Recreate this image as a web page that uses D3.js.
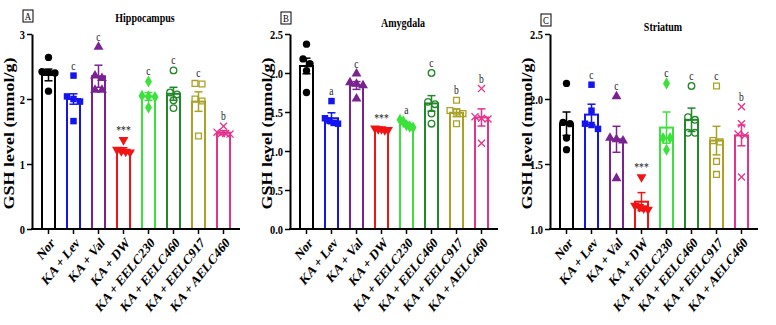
<!DOCTYPE html>
<html>
<head>
<meta charset="utf-8">
<script src="https://cdn.jsdelivr.net/npm/d3@7"></script>
<style>
  body { margin: 0; background: #fff; }
  text { font-family: "Liberation Serif", "Times New Roman", serif; }
</style>
</head>
<body>
<div id="chart"></div>
<script>
// groups (same for the three panels)
var categories = ["Nor", "KA + Lev", "KA + Val", "KA + DW", "KA + EELC230", "KA + EELC460", "KA + EELC917", "KA + AELC460"];

// A - Hippocampus
var meansA = [2.37, 2.0, 2.35, 1.21, 2.04, 2.08, 1.96, 1.48];
var semA = [0.09, 0.08, 0.17, 0.04, 0.06, 0.1, 0.15, 0.03];
var pointsA = [
  [2.64, 2.42, 2.41, 2.40, 2.12],
  [2.36, 2.04, 2.0, 1.96, 1.66],
  [2.8, 2.36, 2.32, 2.14, 2.14],
  [1.37, 1.22, 1.2, 1.19, 1.18],
  [2.27, 2.05, 2.04, 2.03, 1.87],
  [2.44, 2.1, 2.07, 1.98, 1.86],
  [2.24, 2.23, 2.0, 1.97, 1.43],
  [1.58, 1.49, 1.47, 1.47, 1.46]
];
var notesA = ["", "c", "c", "***", "c", "c", "c", "b"];

// B - Amygdala
var meansB = [2.09, 1.42, 1.84, 1.28, 1.34, 1.61, 1.49, 1.43];
var semB = [0.1, 0.07, 0.05, 0.015, 0.03, 0.1, 0.05, 0.11];
var pointsB = [
  [2.37, 2.18, 2.12, 2.03, 1.75],
  [1.64, 1.42, 1.39, 1.36, 1.35],
  [1.99, 1.88, 1.86, 1.84, 1.67],
  [1.29, 1.28, 1.28, 1.27, 1.27],
  [1.40, 1.38, 1.33, 1.31, 1.30],
  [2.0, 1.63, 1.6, 1.48, 1.35],
  [1.65, 1.52, 1.5, 1.48, 1.35],
  [1.8, 1.44, 1.42, 1.41, 1.1]
];
var notesB = ["", "a", "c", "***", "a", "c", "b", "b"];

// C - Striatum
var meansC = [1.81, 1.88, 1.69, 1.21, 1.78, 1.84, 1.68, 1.72];
var semC = [0.09, 0.08, 0.1, 0.07, 0.12, 0.09, 0.11, 0.08];
var pointsC = [
  [2.12, 1.82, 1.81, 1.70, 1.61],
  [2.11, 1.91, 1.81, 1.8, 1.77],
  [2.02, 1.7, 1.69, 1.68, 1.39],
  [1.40, 1.18, 1.17, 1.16, 1.15],
  [2.12, 1.7, 1.7, 1.61],
  [2.1, 1.86, 1.84, 1.74, 1.74],
  [2.1, 1.68, 1.67, 1.52, 1.42],
  [1.94, 1.81, 1.73, 1.72, 1.40]
];
var notesC = ["", "c", "c", "***", "c", "c", "c", "b"];

var colors = ["#000000", "#1414f0", "#7a2390", "#f01414", "#3be23b", "#22882a", "#aaa226", "#e4338c"];
var symbolTypes = [d3.symbolCircle, d3.symbolSquare, d3.symbolTriangle, d3.symbolTriangle,
  d3.symbolDiamond, d3.symbolCircle, d3.symbolSquare, d3.symbolTimes];
var filled = [true, true, true, true, true, false, false, false];

var SX = 0.8; // glyphs in the figure are narrow
var TOP = 34, BOTTOM = 229;

var svg = d3.select("#chart").append("svg")
  .attr("width", 776)
  .attr("height", 325)
  .style("background", "#fff");

var panels = [
  { key: "A", title: "Hippocampus", left: 32, domain: [0, 3], ticks: [0, 1, 2, 3], fmt: d3.format("d"),
    means: meansA, sems: semA, points: pointsA, notes: notesA, titleY: 22, boxY: 10 },
  { key: "B", title: "Amygdala", left: 290, domain: [0, 2.5], ticks: [0, 0.5, 1, 1.5, 2, 2.5], fmt: d3.format(".1f"),
    means: meansB, sems: semB, points: pointsB, notes: notesB, titleY: 27, boxY: 12 },
  { key: "C", title: "Striatum", left: 550, domain: [1, 2.5], ticks: [1, 1.5, 2, 2.5], fmt: d3.format(".1f"),
    means: meansC, sems: semC, points: pointsC, notes: notesC, titleY: 31, boxY: 14 }
];

function squeeze(x, y, rot) {
  return "translate(" + x + "," + y + ") scale(" + SX + ",1)" + (rot ? " rotate(" + rot + ")" : "");
}

// spread points with nearly equal values side by side, inside the bar
function spreadPoints(vals, y) {
  var pts = vals.map(function (v) { return { v: v, py: y(v), dx: 0 }; })
    .sort(function (a, b) { return a.py - b.py; });
  var clusters = [];
  pts.forEach(function (p) {
    var last = clusters[clusters.length - 1];
    if (last && p.py - last[last.length - 1].py < 5) last.push(p);
    else clusters.push([p]);
  });
  clusters.forEach(function (c) {
    var step = c.length > 1 ? Math.min(7, 13 / (c.length - 1)) : 0;
    c.forEach(function (p, i) { p.dx = (i - (c.length - 1) / 2) * step; });
  });
  return pts;
}

function drawPanel(p) {
  var g = svg.append("g").attr("class", "panel-" + p.key);

  var x = d3.scaleBand().domain(categories)
    .range([p.left + 4, p.left + 204])
    .paddingInner(0.4).paddingOuter(0.2);
  var y = d3.scaleLinear().domain(p.domain).range([BOTTOM, TOP]);

  // bars
  g.selectAll(".bar").data(p.means).enter().append("rect")
    .attr("class", "bar")
    .attr("x", function (d, i) { return x(categories[i]) + 1; })
    .attr("y", function (d) { return y(d); })
    .attr("width", x.bandwidth() - 2)
    .attr("height", function (d) { return BOTTOM - y(d); })
    .attr("fill", "#fff")
    .attr("stroke", function (d, i) { return colors[i]; })
    .attr("stroke-width", 2);

  // error bars
  var eb = g.selectAll(".err").data(p.means).enter().append("g")
    .attr("class", "err")
    .attr("stroke", function (d, i) { return colors[i]; })
    .attr("stroke-width", 1.5);
  eb.append("line")
    .attr("x1", function (d, i) { return x(categories[i]) + x.bandwidth() / 2; })
    .attr("x2", function (d, i) { return x(categories[i]) + x.bandwidth() / 2; })
    .attr("y1", function (d, i) { return y(d - p.sems[i]); })
    .attr("y2", function (d, i) { return y(d + p.sems[i]); });
  [-1, 1].forEach(function (s) {
    eb.append("line")
      .attr("x1", function (d, i) { return x(categories[i]) + x.bandwidth() / 2 - 4; })
      .attr("x2", function (d, i) { return x(categories[i]) + x.bandwidth() / 2 + 4; })
      .attr("y1", function (d, i) { return y(d + s * p.sems[i]); })
      .attr("y2", function (d, i) { return y(d + s * p.sems[i]); });
  });

  // individual points
  p.points.forEach(function (vals, i) {
    var cx = x(categories[i]) + x.bandwidth() / 2;
    var sym = d3.symbol().type(symbolTypes[i]).size(i === 7 ? 34 : (filled[i] ? 42 : 34));
    g.selectAll(".pt" + i).data(spreadPoints(vals, y)).enter().append("path")
      .attr("class", "pt" + i)
      .attr("d", sym)
      .attr("transform", function (d) {
        return "translate(" + (cx + d.dx) + "," + d.py + ")" + (i === 3 ? " rotate(180)" : "");
      })
      .attr("fill", filled[i] ? colors[i] : "none")
      .attr("stroke", colors[i])
      .attr("stroke-width", filled[i] ? 0 : 1.3);
  });

  // significance letters
  g.selectAll(".note").data(p.notes).enter().append("text")
    .attr("class", "note")
    .attr("transform", function (d, i) {
      var top = Math.min(y(d3.max(p.points[i])), y(p.means[i] + p.sems[i]));
      return squeeze(x(categories[i]) + x.bandwidth() / 2, top - 6);
    })
    .attr("text-anchor", "middle")
    .attr("font-size", 12)
    .attr("fill", "#222")
    .text(function (d) { return d; });

  // y axis
  var yAxis = g.append("g")
    .attr("transform", "translate(" + p.left + ",0)")
    .call(d3.axisLeft(y).tickValues(p.ticks).tickFormat(p.fmt).tickSize(5).tickSizeOuter(0));
  yAxis.select(".domain").attr("stroke-width", 2);
  yAxis.selectAll(".tick line").attr("stroke-width", 1.5);
  yAxis.selectAll(".tick text")
    .attr("x", null)
    .attr("transform", "translate(-7,0) scale(" + SX + ",1)")
    .attr("font-family", "Liberation Serif, serif")
    .attr("font-weight", "bold")
    .attr("font-size", 13)
    .attr("fill", "#000");

  // x axis
  var xAxis = g.append("g")
    .attr("transform", "translate(0," + BOTTOM + ")")
    .call(d3.axisBottom(x).tickSize(5).tickSizeOuter(0));
  xAxis.select(".domain").remove();
  xAxis.append("line")
    .attr("x1", p.left - 1).attr("x2", p.left + 208)
    .attr("stroke", "#000").attr("stroke-width", 2);
  xAxis.selectAll(".tick line").attr("stroke-width", 1.5);
  xAxis.selectAll(".tick text")
    .attr("y", null).attr("dy", "0.35em")
    .attr("text-anchor", "end")
    .attr("transform", squeeze(4, 11, -45))
    .attr("font-family", "Liberation Serif, serif")
    .attr("font-weight", "bold")
    .attr("font-size", 14.5)
    .attr("fill", "#000");

  // y axis title
  g.append("text")
    .attr("transform", squeeze(p.left - 18, (TOP + BOTTOM) / 2 + 2, -90))
    .attr("text-anchor", "middle")
    .attr("font-weight", "bold")
    .attr("font-size", 18)
    .text("GSH level (mmol/g)");

  // panel title
  g.append("text")
    .attr("transform", squeeze(p.left + 113, p.titleY))
    .attr("text-anchor", "middle")
    .attr("font-weight", "bold")
    .attr("font-size", 12.5)
    .text(p.title);

  // panel letter in a box
  g.append("rect")
    .attr("x", p.left - 9).attr("y", p.boxY)
    .attr("width", 10).attr("height", 12)
    .attr("fill", "none").attr("stroke", "#000").attr("stroke-width", 1);
  g.append("text")
    .attr("transform", squeeze(p.left - 4, p.boxY + 10))
    .attr("text-anchor", "middle")
    .attr("font-size", 11)
    .text(p.key);
}

panels.forEach(drawPanel);
</script>
</body>
</html>
